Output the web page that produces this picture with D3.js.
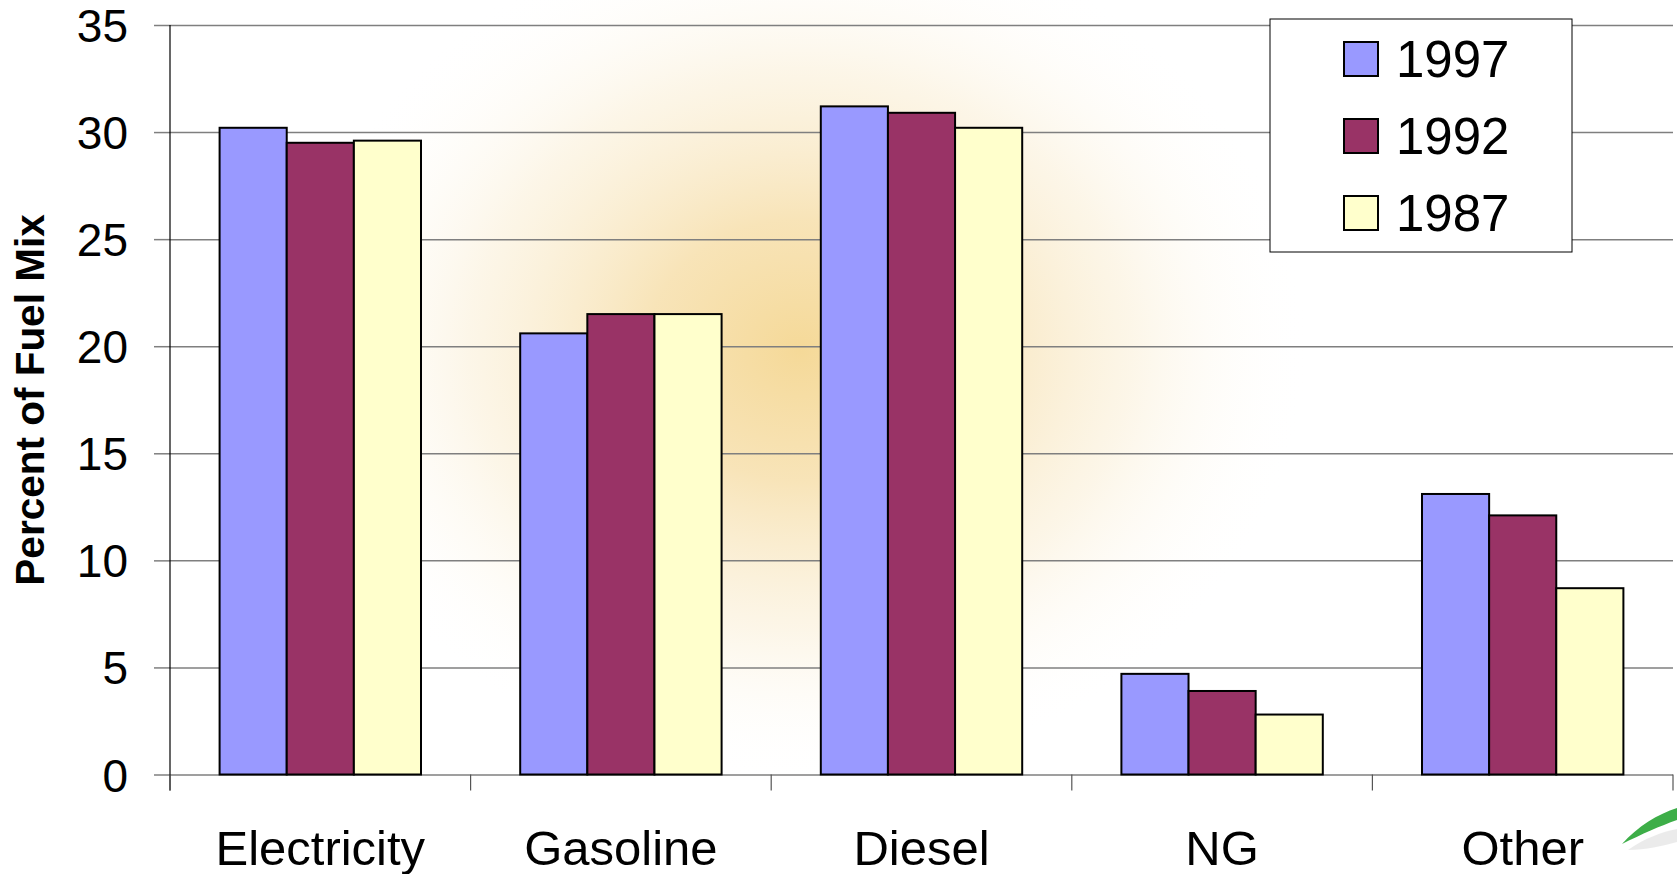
<!DOCTYPE html>
<html>
<head>
<meta charset="utf-8">
<script src="https://cdn.jsdelivr.net/npm/d3@7"></script>
<style>
  html, body { margin: 0; padding: 0; background: #fff; }
  svg { display: block; font-family: "Liberation Sans", Arial, sans-serif; }
</style>
</head>
<body>
<div id="chart"></div>
<script>
// --- data ---
const categories = ["Electricity", "Gasoline", "Diesel", "NG", "Other"];
const years = ["1997", "1992", "1987"];
const values1997 = [30.2, 20.6, 31.2, 4.7, 13.1];
const values1992 = [29.5, 21.5, 30.9, 3.9, 12.1];
const values1987 = [29.6, 21.5, 30.2, 2.8, 8.7];
const yTicks = [0, 5, 10, 15, 20, 25, 30, 35];
const colors = ["#9999ff", "#993366", "#ffffcc"];

const seriesByYear = { "1997": values1997, "1992": values1992, "1987": values1987 };
const rows = categories.map((c, i) => ({
  category: c,
  vals: years.map(y => ({ year: y, value: seriesByYear[y][i] }))
}));

// --- layout ---
const width = 1677, height = 874;
const margin = { top: 25, right: 4, bottom: 99.5, left: 170 };

const svg = d3.select("#chart").append("svg")
  .attr("width", width)
  .attr("height", height);

// soft orange glow behind the plot
const defs = svg.append("defs");
const glow = defs.append("radialGradient")
  .attr("id", "glow")
  .attr("gradientUnits", "userSpaceOnUse")
  .attr("cx", 800).attr("cy", 350).attr("r", 510)
  .attr("gradientTransform", "translate(800,350) scale(1,0.85) translate(-800,-350)");
glow.append("stop").attr("offset", "0%").attr("stop-color", "#f5d998").attr("stop-opacity", 1);
glow.append("stop").attr("offset", "30%").attr("stop-color", "#f6dda6").attr("stop-opacity", 0.8);
glow.append("stop").attr("offset", "65%").attr("stop-color", "#f9ebcc").attr("stop-opacity", 0.45);
glow.append("stop").attr("offset", "100%").attr("stop-color", "#ffffff").attr("stop-opacity", 0);

svg.append("rect")
  .attr("x", 0).attr("y", 0).attr("width", width).attr("height", height)
  .attr("fill", "url(#glow)");

const x = d3.scaleBand()
  .domain(categories)
  .range([margin.left, width - margin.right])
  .paddingInner(0.33)
  .paddingOuter(0.165);

const xs = d3.scaleBand()
  .domain(years)
  .range([0, x.bandwidth()])
  .padding(0);

const y = d3.scaleLinear()
  .domain([0, 35])
  .range([height - margin.bottom, margin.top]);

// gridlines + y ticks
svg.append("g")
  .attr("transform", `translate(${margin.left},0)`)
  .call(d3.axisLeft(y).tickValues(yTicks).tickSize(16).tickPadding(26))
  .call(g => g.select(".domain").remove())
  .call(g => g.selectAll(".tick line").attr("stroke", "#7f7f7f").attr("stroke-width", 1.5))
  .call(g => g.selectAll(".tick").append("line")
      .attr("x1", 0).attr("x2", width - margin.right - margin.left)
      .attr("stroke", "#7f7f7f").attr("stroke-width", 1.5))
  .call(g => g.selectAll(".tick text")
      .attr("font-size", 46).attr("fill", "#000")
      .attr("dy", "0.36em")
      .attr("font-family", "'Liberation Sans', Arial, sans-serif"));

// bars
const groups = svg.append("g")
  .selectAll("g")
  .data(rows)
  .join("g")
  .attr("transform", d => `translate(${x(d.category)},0)`);

groups.selectAll("rect")
  .data(d => d.vals)
  .join("rect")
  .attr("x", d => xs(d.year))
  .attr("y", d => y(d.value))
  .attr("width", xs.bandwidth())
  .attr("height", d => y(0) - y(d.value))
  .attr("fill", (d, i) => colors[i])
  .attr("stroke", "#000")
  .attr("stroke-width", 2);

// left axis line
svg.append("line")
  .attr("x1", margin.left).attr("x2", margin.left)
  .attr("y1", y(35)).attr("y2", y(0) + 16)
  .attr("stroke", "#000").attr("stroke-width", 1.2);

// category ticks below the baseline
const bounds = d3.range(categories.length + 1)
  .map(i => margin.left + i * x.step());
svg.append("g")
  .selectAll("line")
  .data(bounds)
  .join("line")
  .attr("x1", d => d).attr("x2", d => d)
  .attr("y1", y(0)).attr("y2", y(0) + 16)
  .attr("stroke", "#555").attr("stroke-width", 1.2);

// category labels
svg.append("g")
  .selectAll("text")
  .data(categories)
  .join("text")
  .attr("x", d => x(d) + x.bandwidth() / 2)
  .attr("y", 865)
  .attr("text-anchor", "middle")
  .attr("font-size", 49)
  .text(d => d);

// y title
svg.append("text")
  .attr("transform", "translate(44,400) rotate(-90)")
  .attr("text-anchor", "middle")
  .attr("font-size", 40.5)
  .attr("font-weight", "bold")
  .text("Percent of Fuel Mix");

// legend
const legend = svg.append("g").attr("transform", "translate(1270,19)");
legend.append("rect")
  .attr("width", 302).attr("height", 233)
  .attr("fill", "#fff").attr("stroke", "#000").attr("stroke-width", 1);

const item = legend.selectAll("g.item")
  .data(years)
  .join("g")
  .attr("class", "item")
  .attr("transform", (d, i) => `translate(0,${40 + i * 77})`);
item.append("rect")
  .attr("x", 74).attr("y", -17).attr("width", 34).attr("height", 34)
  .attr("fill", (d, i) => colors[i])
  .attr("stroke", "#000").attr("stroke-width", 2);
item.append("text")
  .attr("x", 126).attr("y", 18)
  .attr("font-size", 51)
  .text(d => d);

// green swoosh fragment in the corner
svg.append("path")
  .attr("d", "M1628,850 C1645,838 1662,832 1677,829 L1677,842 C1662,846 1646,850 1628,850 Z")
  .attr("fill", "#e2e2e2").attr("opacity", 0.7);
svg.append("path")
  .attr("d", "M1622,844 C1638,826 1658,814 1677,808 L1677,820 C1660,826 1642,834 1622,844 Z")
  .attr("fill", "#3dae48");
</script>
</body>
</html>
